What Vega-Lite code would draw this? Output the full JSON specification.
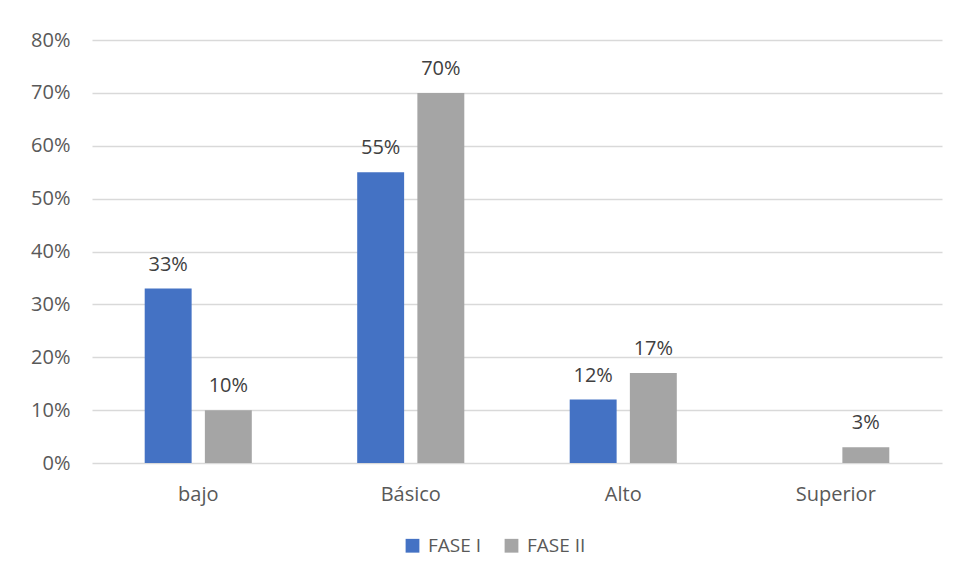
{
  "$schema": "https://vega.github.io/schema/vega-lite/v6.json",
  "width": 850,
  "height": 423,
  "autosize": {"type": "none"},
  "padding": {"left": 92, "top": 40, "right": 16, "bottom": 117},
  "background": "white",
  "data": {
    "values": [
      {"nivel": "bajo", "fase": "FASE I", "valor": 0.33},
      {"nivel": "bajo", "fase": "FASE II", "valor": 0.10},
      {"nivel": "Básico", "fase": "FASE I", "valor": 0.55},
      {"nivel": "Básico", "fase": "FASE II", "valor": 0.70},
      {"nivel": "Alto", "fase": "FASE I", "valor": 0.12},
      {"nivel": "Alto", "fase": "FASE II", "valor": 0.17},
      {"nivel": "Superior", "fase": "FASE II", "valor": 0.03}
    ]
  },
  "encoding": {
    "x": {
      "field": "nivel", "type": "nominal",
      "sort": ["bajo", "Básico", "Alto", "Superior"],
      "scale": {"paddingInner": 0.496, "paddingOuter": 0.248},
      "axis": {"title": null, "labelAngle": 0, "domain": false, "ticks": false, "labelPadding": 21, "labelFontSize": 20, "labelColor": "#595959", "labelFont": "Open Sans"}
    },
    "xOffset": {
      "field": "fase", "type": "nominal",
      "sort": ["FASE I", "FASE II"],
      "scale": {"paddingInner": 0.22, "paddingOuter": 0}
    },
    "y": {
      "field": "valor", "type": "quantitative",
      "scale": {"domain": [0, 0.8], "nice": false},
      "axis": {"title": null, "format": ".0%", "values": [0,0.1,0.2,0.3,0.4,0.5,0.6,0.7,0.8], "labelOverlap": false, "labelBound": false, "domain": false, "ticks": false, "labelPadding": 22, "labelFontSize": 20, "labelColor": "#595959", "labelFont": "Open Sans", "gridColor": "#d9d9d9", "gridWidth": 1.3}
    }
  },
  "layer": [
    {
      "mark": {"type": "bar"},
      "encoding": {
        "color": {
          "field": "fase", "type": "nominal",
          "scale": {"domain": ["FASE I", "FASE II"], "range": ["#4472c4", "#a5a5a5"]},
          "legend": {"title": null, "orient": "none", "legendX": 311, "legendY": 496, "direction": "horizontal", "symbolType": "square", "symbolSize": 190, "symbolStrokeWidth": 0, "labelFontSize": 19, "labelColor": "#595959", "labelFont": "Open Sans", "columnPadding": 20, "labelOffset": 6, "symbolOffset": 0}
        }
      }
    },
    {
      "mark": {"type": "text", "dy": -24, "fontSize": 20, "color": "#404040", "font": "Open Sans"},
      "encoding": {
        "text": {"field": "valor", "type": "quantitative", "format": ".0%"}
      }
    }
  ],
  "config": {"view": {"stroke": null}}
}
